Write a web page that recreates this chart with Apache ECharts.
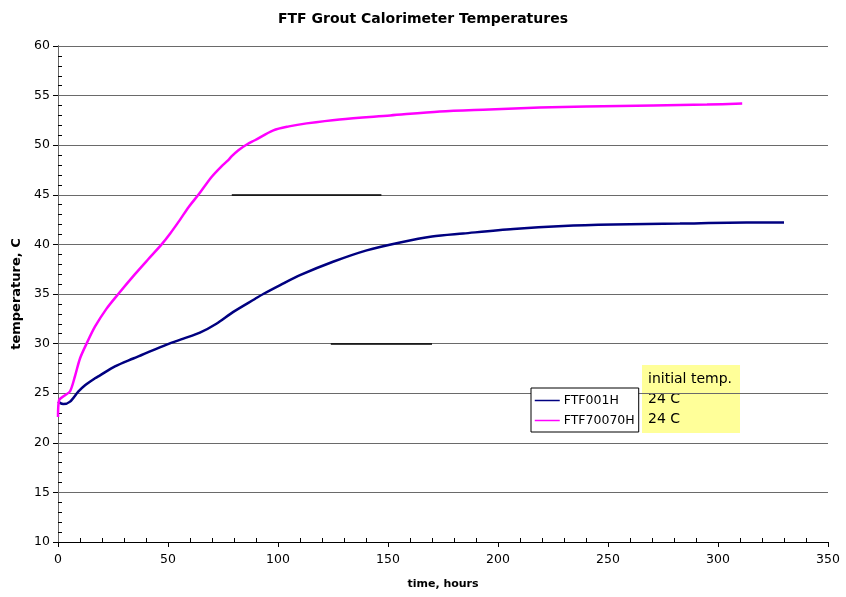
<!DOCTYPE html>
<html>
<head>
<meta charset="utf-8">
<script src="https://cdn.jsdelivr.net/npm/echarts@6/dist/echarts.min.js"></script>
<style>html,body{margin:0;padding:0;background:#fff}#c{width:846px;height:597px}</style>
</head>
<body>
<div id="c"></div>
<script>
const seriesNames = ['FTF001H', 'FTF70070H'];
const navyHours = [0, 2.4, 5.5, 9.2, 12.3, 16.8, 19.1, 25.9, 34.2, 38, 49.4, 57, 64.5, 72, 79.7, 89.5, 93.3, 101, 110, 125, 140.3, 155.5, 170, 184.2, 207, 229.7, 252.4, 282.7, 313, 330];
const navyTemps = [24.15, 23.9, 24.15, 25.15, 25.8, 26.5, 26.8, 27.7, 28.5, 28.85, 29.9, 30.5, 31.1, 32.0, 33.2, 34.5, 35.0, 35.9, 36.9, 38.25, 39.4, 40.2, 40.8, 41.1, 41.55, 41.85, 42.0, 42.1, 42.2, 42.2];
const magHours = [0, 0.5, 3.2, 5.5, 7.7, 10, 13, 16.8, 22, 27.4, 35, 41, 47.1, 51, 55.5, 59.5, 63.8, 69.8, 74, 77.4, 79, 82, 86, 89.5, 97.9, 105, 113, 128, 151, 173.6, 196, 219, 240, 270.5, 295, 311];
const magTemps = [22.6, 24.3, 24.8, 25.2, 26.7, 28.5, 30.0, 31.7, 33.5, 35.0, 37.0, 38.5, 40.0, 41.1, 42.5, 43.8, 45.0, 46.8, 47.8, 48.5, 48.9, 49.5, 50.1, 50.5, 51.5, 51.9, 52.2, 52.6, 53.0, 53.4, 53.6, 53.8, 53.9, 54.0, 54.1, 54.2];
const noteLines = ['initial temp.', '24 C', '24 C'];
// dark overlay segments on the gridlines: [hourStart, hourEnd, temp]
const darkSegments = [[79, 147, 45], [124, 170, 30]];

const font = '"DejaVu Sans", "Liberation Sans", Arial, sans-serif';
const chart = echarts.init(document.getElementById('c'), null, {renderer: 'canvas'});
const zip = (a, b) => a.map((v, i) => [v, b[i]]);

chart.setOption({
  animation: false,
  textStyle: {fontFamily: font},
  title: {
    text: 'FTF Grout Calorimeter Temperatures',
    left: 'center', top: 7,
    textStyle: {fontSize: 14, fontWeight: 'bold', color: '#000', fontFamily: font}
  },
  grid: {left: 58, right: 18, top: 46, bottom: 55},
  legend: {
    orient: 'vertical', left: 531, top: 388,
    data: seriesNames,
    backgroundColor: '#fff', borderColor: '#000', borderWidth: 1,
    padding: [6, 4, 5, 3], itemGap: 7, itemWidth: 25, itemHeight: 10,
    itemStyle: {opacity: 0},
    lineStyle: {width: 1.5},
    textStyle: {fontSize: 12.5, color: '#000', fontFamily: font, padding: [0, 0, 0, -1]}
  },
  xAxis: [{
    type: 'value', min: 0, max: 350, interval: 50,
    name: 'time, hours', nameLocation: 'middle', nameGap: 37,
    nameTextStyle: {fontSize: 11, fontWeight: 'bold', color: '#000'},
    axisLine: {onZero: false, lineStyle: {color: '#000'}},
    axisTick: {show: true, inside: false, length: 5, lineStyle: {color: '#000'}},
    axisLabel: {fontSize: 12.5, color: '#000', margin: 11},
    splitLine: {show: false}
  }, {
    type: 'value', min: 0, max: 350, interval: 50, position: 'bottom',
    axisLine: {show: false}, axisLabel: {show: false},
    axisTick: {show: false, inside: true},
    minorTick: {show: true, splitNumber: 5, length: 4, lineStyle: {color: '#000'}},
    splitLine: {show: false}
  }],
  yAxis: [{
    type: 'value', min: 10, max: 60, interval: 5,
    name: 'temperature, C', nameLocation: 'middle', nameGap: 34, nameRotate: 90,
    nameTextStyle: {fontSize: 13, fontWeight: 'bold', color: '#000'},
    axisLine: {show: true, onZero: false, lineStyle: {color: '#000'}},
    axisTick: {show: true, inside: false, length: 5, lineStyle: {color: '#000'}},
    axisLabel: {fontSize: 12.5, color: '#000', margin: 8},
    splitLine: {show: true, lineStyle: {color: '#6a6a6a', width: 1}}
  }, {
    type: 'value', min: 10, max: 60, interval: 5, position: 'left',
    axisLine: {show: false}, axisLabel: {show: false},
    axisTick: {show: false, inside: true},
    minorTick: {show: true, splitNumber: 5, length: 4, lineStyle: {color: '#000'}},
    splitLine: {show: false}
  }, {
    type: 'value', min: 10, max: 60, interval: 5, position: 'right',
    axisLine: {show: true, lineStyle: {color: '#6a6a6a'}}, axisLabel: {show: false},
    axisTick: {show: false}, splitLine: {show: false}
  }],
  series: [{
    name: seriesNames[0], type: 'line', data: zip(navyHours, navyTemps),
    showSymbol: false, symbol: 'none', smooth: 0.3, z: 4,
    lineStyle: {color: '#000080', width: 2.5}, itemStyle: {color: '#000080'},
    markLine: {
      silent: true, symbol: 'none', label: {show: false},
      lineStyle: {color: '#000', width: 1.5, type: 'solid'},
      data: darkSegments.map(s => [{coord: [s[0], s[2]]}, {coord: [s[1], s[2]]}])
    }
  }, {
    name: seriesNames[1], type: 'line', data: zip(magHours, magTemps),
    showSymbol: false, symbol: 'none', smooth: 0.3, z: 5,
    lineStyle: {color: '#ff00ff', width: 2.5}, itemStyle: {color: '#ff00ff'}
  }],
  graphic: [{
    type: 'group', left: 642, top: 365, z: 100,
    children: [{
      type: 'rect', shape: {x: 0, y: 0, width: 98, height: 68},
      style: {fill: '#ffff99'}
    }, {
      type: 'text', x: 6, y: 4,
      style: {text: noteLines.join('\n'), font: '14px ' + font, fill: '#000', lineHeight: 20}
    }]
  }]
});
</script>
</body>
</html>
